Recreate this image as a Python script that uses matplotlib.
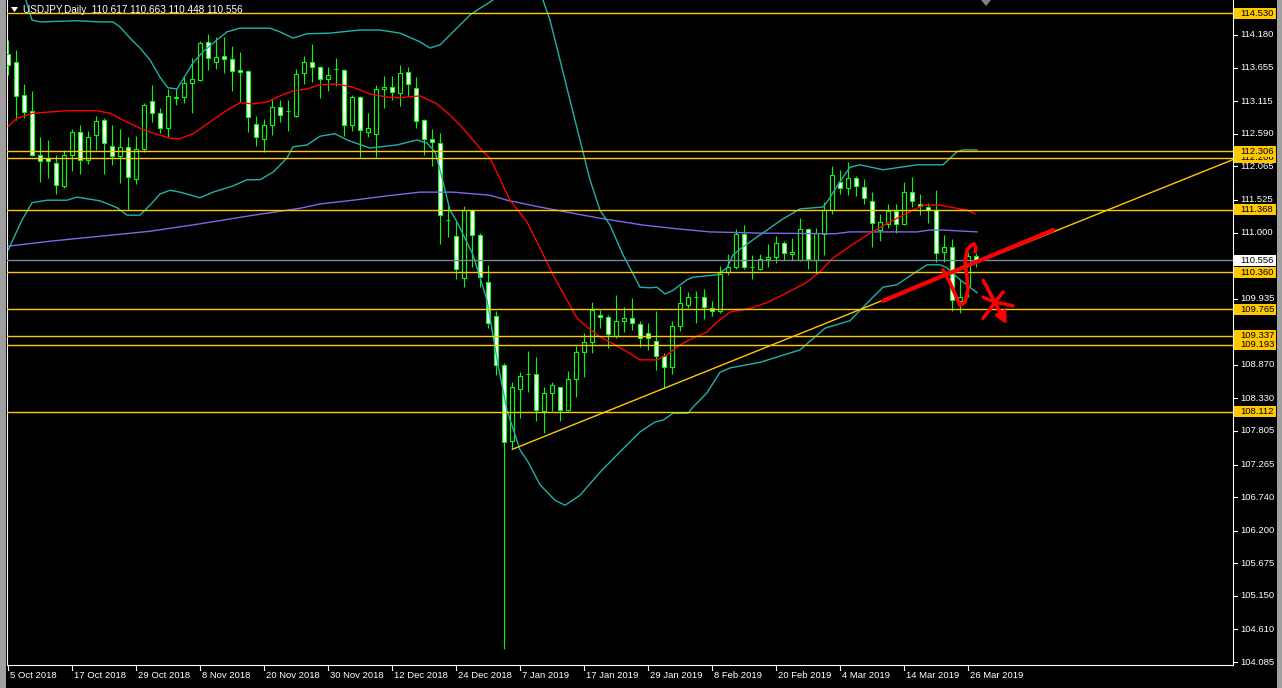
import matplotlib
matplotlib.use("Agg")
import matplotlib.pyplot as plt
from matplotlib.patches import Rectangle, Polygon

plt.rcParams['font.family'] = ['Liberation Sans', 'DejaVu Sans']

# ---- data (bar index, price) ----
opens = [113.87, 113.75, 113.21, 112.95, 112.24, 112.20, 112.12, 111.75, 112.24, 112.62,
         112.17, 112.57, 112.81, 112.40, 112.23, 112.38, 111.86, 112.34, 113.11, 112.92,
         112.68, 113.16, 113.18, 113.40, 113.46, 114.06, 113.75, 113.84, 113.79, 113.61,
         113.60, 112.74, 112.50, 112.73, 113.02, 112.95, 112.88, 113.56, 113.75, 113.66,
         113.47, 113.63, 113.62, 112.73, 113.18, 112.62, 112.58, 113.31, 113.34, 113.24,
         113.58, 113.32, 112.81, 112.50, 112.44, 111.20, 110.94, 110.26, 111.36, 110.96,
         110.20, 109.66, 108.87, 107.65, 108.48, 108.72, 108.72, 108.13, 108.41, 108.51,
         108.15, 108.64, 109.08, 109.24, 109.68, 109.64, 109.34, 109.58, 109.62, 109.52,
         109.38, 109.26, 109.02, 108.83, 109.50, 109.84, 109.96, 109.96, 109.79, 109.74,
         110.37, 110.45, 110.98, 110.44, 110.42, 110.58, 110.60, 110.83, 110.65, 110.56,
         111.05, 110.56, 110.98, 111.36, 111.82, 111.71, 111.87, 111.74, 111.51, 111.04,
         111.14, 111.34, 111.14, 111.65, 111.46, 111.41, 111.37, 110.68, 110.77, 109.90,
         110.13, 110.617]
highs = [114.10, 113.94, 113.39, 113.28, 112.53, 112.49, 112.24, 112.33, 112.67, 112.73,
         112.63, 112.88, 112.85, 112.73, 112.67, 112.54, 112.55, 113.09, 113.38, 113.00,
         113.31, 113.32, 113.51, 113.81, 114.08, 114.20, 114.14, 114.14, 114.00, 113.90,
         113.62, 112.88, 112.83, 113.15, 113.13, 113.14, 113.64, 113.84, 114.03, 113.68,
         113.67, 113.81, 113.64, 113.22, 113.20, 112.92, 113.38, 113.52, 113.52, 113.70,
         113.66, 113.51, 112.82, 112.66, 112.60, 111.46, 111.17, 111.42, 111.38, 111.00,
         110.48, 109.73, 108.90, 108.60, 108.75, 109.09, 108.99, 108.52, 108.59, 108.52,
         108.77, 109.18, 109.39, 109.88, 109.76, 109.68, 109.99, 109.80, 109.94, 109.58,
         109.54, 109.74, 109.06, 109.58, 110.14, 110.04, 110.06, 110.09, 109.90, 110.46,
         110.65, 111.05, 111.12, 110.64, 110.65, 110.82, 110.94, 110.87, 110.91, 111.23,
         111.07, 111.07, 111.49, 112.07, 112.01, 112.14, 111.91, 111.86, 111.65, 111.30,
         111.46, 111.46, 111.82, 111.89, 111.62, 111.48, 111.68, 110.96, 110.89, 110.24,
         110.69, 110.663]
lows = [113.54, 112.81, 112.85, 112.23, 111.82, 111.87, 111.62, 111.72, 111.99, 111.94,
        112.11, 112.33, 111.95, 112.08, 111.80, 111.36, 111.78, 112.30, 112.78, 112.60,
        112.54, 113.05, 113.09, 112.93, 113.44, 113.62, 113.63, 113.56, 113.28, 113.10,
        112.62, 112.39, 112.30, 112.57, 112.78, 112.64, 112.86, 113.39, 113.43, 113.17,
        113.28, 113.36, 112.55, 112.64, 112.22, 112.54, 112.22, 113.00, 113.13, 113.03,
        113.20, 112.68, 112.25, 112.07, 110.81, 110.92, 110.25, 110.13, 110.45, 110.13,
        109.46, 108.70, 104.29, 107.51, 108.01, 108.44, 107.97, 107.77, 108.13, 107.97,
        108.12, 108.36, 108.68, 109.06, 109.47, 109.14, 109.31, 109.40, 109.43, 109.15,
        109.11, 108.79, 108.50, 108.72, 109.42, 109.78, 109.55, 109.60, 109.66, 109.71,
        110.32, 110.41, 110.42, 110.25, 110.40, 110.44, 110.51, 110.55, 110.56, 110.54,
        110.41, 110.33, 110.64, 111.30, 111.62, 111.60, 111.59, 111.46, 110.77, 110.87,
        111.08, 111.00, 111.12, 111.41, 111.29, 111.15, 110.53, 110.53, 109.73, 109.70,
        109.97, 110.448]
closes = [113.70, 113.20, 112.94, 112.25, 112.15, 112.15, 111.77, 112.24, 112.62, 112.17,
          112.53, 112.80, 112.44, 112.23, 112.38, 111.89, 112.34, 113.06, 112.92, 112.68,
          113.19, 113.18, 113.40, 113.47, 114.05, 113.81, 113.82, 113.79, 113.60, 113.58,
          112.86, 112.53, 112.73, 113.02, 112.89, 112.95, 113.55, 113.75, 113.66, 113.47,
          113.53, 113.63, 112.73, 113.18, 112.65, 112.68, 113.31, 113.34, 113.27, 113.56,
          113.39, 112.80, 112.50, 112.45, 111.28, 111.20, 110.42, 111.36, 110.96, 110.29,
          109.54, 108.87, 107.63, 108.51, 108.69, 108.72, 108.15, 108.41, 108.55, 108.15,
          108.64, 109.07, 109.23, 109.75, 109.64, 109.36, 109.58, 109.62, 109.55, 109.31,
          109.31, 109.02, 108.84, 109.50, 109.86, 109.96, 109.96, 109.80, 109.74, 110.34,
          110.45, 110.98, 110.44, 110.44, 110.57, 110.60, 110.83, 110.67, 110.68, 111.05,
          110.57, 110.99, 111.36, 111.93, 111.71, 111.87, 111.75, 111.55, 111.16, 111.17,
          111.34, 111.14, 111.66, 111.50, 111.43, 111.36, 110.67, 110.77, 109.92, 109.97,
          110.62, 110.556]

# Bollinger upper band (bar position, price)
ub_x = [0, 2.09, 2.96, 3.96, 8.59, 11.46, 13.09, 13.96, 15.21, 16.46, 17.71, 18.96, 19.96,
        21.09, 23.09, 24.34, 26.09, 27.34, 28.96, 32.71, 33.96, 35.59, 37.34, 40.21, 43.96,
        46.46, 48.96, 51.46, 52.71, 53.96, 55.21, 56.46, 57.71, 58.96, 60.21, 61.46, 63.96,
        65.84, 66.84, 67.71, 68.96, 70.21, 71.46, 72.71, 73.96, 75.21, 76.84, 77.71, 78.96,
        80.21, 81.09, 82.09, 83.09, 84.84, 85.59, 88.59, 89.84, 90.59, 91.84, 94.84, 96.84,
        98.96, 101.84, 102.34, 103.09, 104.34, 105.21, 106.46, 109.34, 113.59, 116.84,
        118.59, 119.34, 121.09]
ub_y = [114.98, 114.79, 114.42, 114.39, 114.41, 114.39, 114.39, 114.31, 114.13, 113.97,
        113.78, 113.50, 113.33, 113.31, 113.73, 113.91, 114.10, 114.23, 114.29, 114.29,
        114.23, 114.13, 114.20, 114.21, 114.26, 114.26, 114.21, 114.07, 113.97, 114.02,
        114.18, 114.34, 114.50, 114.61, 114.71, 114.82, 114.98, 114.90, 114.74, 114.42,
        113.78, 113.13, 112.49, 111.85, 111.36, 111.12, 110.64, 110.43, 110.12, 110.11,
        110.12, 110.01, 110.07, 110.24, 110.28, 110.32, 110.43, 110.64, 110.77, 111.04,
        111.22, 111.38, 111.41, 111.49, 111.64, 111.89, 112.05, 112.09, 112.01, 112.09,
        112.09, 112.30, 112.33, 112.33]
# Bollinger lower band
lb_x = [0, 0.84, 1.71, 2.96, 4.84, 7.34, 8.59, 11.46, 13.59, 14.84, 16.46, 17.71, 18.96,
        20.21, 21.46, 23.96, 25.59, 28.09, 29.84, 31.46, 33.09, 34.84, 35.59, 37.34, 38.96,
        40.84, 42.34, 45.21, 48.59, 51.09, 52.34, 53.34, 53.96, 55.21, 56.09, 58.09, 59.84,
        61.21, 62.34, 63.96, 64.96, 66.46, 68.34, 69.59, 71.46, 73.96, 76.46, 78.96, 80.84,
        81.84, 83.09, 84.96, 85.59, 87.34, 88.96, 90.21, 93.96, 98.96, 102.09, 105.21,
        108.09, 109.34, 111.09, 112.34, 114.84, 116.46, 117.34, 118.96, 121.09]
lb_y = [110.72, 110.96, 111.20, 111.48, 111.52, 111.52, 111.57, 111.51, 111.40, 111.28,
        111.28, 111.44, 111.62, 111.68, 111.65, 111.56, 111.65, 111.75, 111.85, 111.85,
        111.97, 112.20, 112.38, 112.41, 112.55, 112.59, 112.49, 112.36, 112.41, 112.49,
        112.44, 112.30, 112.01, 111.36, 111.17, 110.64, 109.91, 108.87, 108.14, 107.50,
        107.31, 106.94, 106.69, 106.61, 106.77, 107.14, 107.47, 107.79, 107.95, 107.98,
        108.09, 108.09, 108.19, 108.42, 108.75, 108.82, 108.91, 109.11, 109.46, 109.58,
        109.96, 110.12, 110.16, 110.27, 110.48, 110.48, 110.43, 110.24, 110.03]
# red moving average
ma_x = [0, 1.09, 3.09, 7.34, 11.09, 12.71, 14.34, 16.46, 18.09, 20.21, 21.46, 23.09, 25.21,
        27.34, 28.96, 30.59, 32.34, 33.96, 35.59, 37.34, 38.96, 41.09, 43.09, 45.21, 47.34,
        48.96, 51.46, 53.59, 55.21, 56.46, 58.09, 59.34, 60.21, 62.71, 64.84, 66.46, 68.09,
        69.84, 71.09, 72.34, 73.96, 75.59, 77.34, 78.96, 81.09, 82.34, 83.96, 85.59, 87.34,
        88.59, 90.21, 92.71, 94.84, 97.34, 99.84, 101.46, 103.09, 105.21, 107.71, 110.21,
        112.34, 114.34, 116.46, 117.71, 119.84, 120.84]
ma_y = [112.71, 112.84, 112.92, 112.96, 112.96, 112.92, 112.81, 112.68, 112.60, 112.52,
        112.51, 112.59, 112.78, 112.97, 113.09, 113.07, 113.10, 113.20, 113.28, 113.31,
        113.38, 113.39, 113.34, 113.23, 113.18, 113.17, 113.20, 113.07, 112.89, 112.73,
        112.49, 112.30, 112.20, 111.52, 111.17, 110.75, 110.32, 109.91, 109.62, 109.48,
        109.32, 109.21, 109.08, 108.95, 108.95, 109.03, 109.19, 109.30, 109.40, 109.56,
        109.72, 109.78, 109.87, 110.03, 110.20, 110.37, 110.59, 110.78, 110.99, 111.17,
        111.31, 111.44, 111.44, 111.41, 111.36, 111.30]
# slow moving average (blue)
sma_x = [0, 5.21, 11.46, 17.71, 23.96, 30.21, 36.46, 38.96, 43.09, 47.34, 51.46, 55.59,
         60.21, 62.34, 66.46, 70.59, 73.96, 79.34, 83.59, 87.71, 93.96, 103.34, 105.21,
         113.59, 115.21, 116.84, 121.09]
sma_y = [110.78, 110.86, 110.94, 111.02, 111.14, 111.27, 111.39, 111.46, 111.52, 111.59,
         111.65, 111.65, 111.60, 111.52, 111.41, 111.31, 111.23, 111.12, 111.06, 111.01,
         110.99, 110.98, 111.01, 111.01, 111.04, 111.04, 111.01]

levels = [108.112, 109.193, 109.337, 109.765, 110.360, 111.368, 112.206, 112.306, 114.530]
bid = 110.556
trend_x = [63, 148.96]
trend_y = [107.51, 111.96]

price_ticks = [114.180, 113.655, 113.115, 112.590, 112.065, 111.525, 111.000,
               109.935, 108.870, 108.330, 107.805, 107.265, 106.740, 106.200,
               105.675, 105.150, 104.610, 104.085]
date_bars = list(range(0, 121, 8))
date_labels = ['5 Oct 2018', '17 Oct 2018', '29 Oct 2018', '8 Nov 2018', '20 Nov 2018',
               '30 Nov 2018', '12 Dec 2018', '24 Dec 2018', '7 Jan 2019', '17 Jan 2019',
               '29 Jan 2019', '8 Feb 2019', '20 Feb 2019', '4 Mar 2019', '14 Mar 2019',
               '26 Mar 2019']

# hand-drawn red marks
pen_line_x = [109.34, 130.59]
pen_line_y = [109.90, 111.04]
pen_v_x = [116.84, 117.71, 118.96, 119.59, 119.96, 119.84, 119.59, 119.84, 120.21, 120.71, 120.96, 120.84]
pen_v_y = [110.40, 110.19, 109.83, 109.88, 110.08, 110.28, 110.51, 110.72, 110.77, 110.82, 110.75, 110.69]
pen_arrow_x = [121.71, 124.96]
pen_arrow_y = [110.27, 109.48]
pen_cross_x = [121.84, 124.34]
pen_cross_y = [109.62, 110.04]
pen_wave_x = [121.84, 122.71, 123.59, 124.59, 125.59]
pen_wave_y = [109.96, 109.91, 109.87, 109.85, 109.82]

# ---- figure ----
W, H = 1282, 688
fig = plt.figure(figsize=(W / 100, H / 100), dpi=100, facecolor='black')
ax = fig.add_axes([7 / W, (H - 665) / H, (1233 - 7) / W, 665 / H])
ax.set_facecolor('black')
ax.set_xlim(-0.1625, 153.09)
ax.set_ylim(104.038, 114.743)
ax.set_xticks([])
ax.set_yticks([])
for s in ['left', 'right', 'bottom']:
    ax.spines[s].set_color('white')
    ax.spines[s].set_linewidth(0.8)
ax.spines['top'].set_visible(False)

GREEN = '#00FF00'
GOLD = '#FFC800'
n = len(opens)
xs = list(range(n))
ax.vlines(xs, lows, highs, color=GREEN, lw=0.8, zorder=2)
for i in xs:
    o, c = opens[i], closes[i]
    fc = 'white' if c < o else 'black'
    ax.add_patch(Rectangle((i - 0.25, min(o, c)), 0.5, abs(c - o), facecolor=fc,
                           edgecolor=GREEN, lw=0.8, zorder=3))

ax.plot(sma_x, sma_y, color='#7B68EE', lw=1, zorder=4)
ax.plot(ma_x, ma_y, color='#FF0000', lw=1, zorder=4)
ax.plot(ub_x, ub_y, color='#20B2AA', lw=1, zorder=4)
ax.plot(lb_x, lb_y, color='#20B2AA', lw=1, zorder=4)

ax.axhline(bid, color='#778899', lw=1, zorder=5)
for lv in levels:
    ax.axhline(lv, color=GOLD, lw=1, zorder=5)

slope = (trend_y[1] - trend_y[0]) / (trend_x[1] - trend_x[0])
x_end = ax.get_xlim()[1]
ax.plot([trend_x[0], x_end], [trend_y[0], trend_y[0] + slope * (x_end - trend_x[0])],
        color=GOLD, lw=1, zorder=5)

# red pen annotations
RED = '#FF0000'
ax.plot(pen_line_x, pen_line_y, color=RED, lw=3.0, solid_capstyle='round', zorder=6)
ax.plot(pen_v_x, pen_v_y, color=RED, lw=2.6, solid_joinstyle='round',
        solid_capstyle='round', zorder=6)
ax.annotate('', xy=(pen_arrow_x[1], pen_arrow_y[1]), xytext=(pen_arrow_x[0], pen_arrow_y[0]),
            arrowprops=dict(arrowstyle='-|>', color=RED, lw=2.6, mutation_scale=16), zorder=6)
ax.plot(pen_cross_x, pen_cross_y, color=RED, lw=2.6, solid_capstyle='round', zorder=6)
ax.plot(pen_wave_x, pen_wave_y, color=RED, lw=2.4, solid_capstyle='round', zorder=6)

# ---- right price scale ----
ytr = ax.get_yaxis_transform()
FS = 6.8
px = 1 / 1226  # one pixel in axes-x fraction
for p in price_ticks:
    ax.plot([1, 1 + 4 * px], [p, p], color='white', lw=0.8, transform=ytr, clip_on=False)
    ax.text(1 + 7 * px, p, f'{p:.3f}', color='white', fontsize=FS, va='center', ha='left',
            transform=ytr, clip_on=False)
box_h = 11 / 62.115
ax.add_patch(Rectangle((1 + 1 * px, bid - box_h / 2), 42 * px, box_h, facecolor='white',
                       edgecolor='none', transform=ytr, clip_on=False, zorder=7))
ax.text(1 + 7 * px, bid, f'{bid:.3f}', color='black', fontsize=FS, va='center', ha='left',
        transform=ytr, clip_on=False, zorder=8)
for k, lv in enumerate(levels):
    ax.add_patch(Rectangle((1 + 1 * px, lv - box_h / 2), 42 * px, box_h, facecolor=GOLD,
                           edgecolor='none', transform=ytr, clip_on=False, zorder=7 + 2 * k))
    ax.text(1 + 7 * px, lv, f'{lv:.3f}', color='black', fontsize=FS, va='center', ha='left',
            transform=ytr, clip_on=False, zorder=8 + 2 * k)

# ---- bottom time scale ----
xtr = ax.get_xaxis_transform()
for b, lab in zip(date_bars, date_labels):
    ax.plot([b, b], [0, -5 / 665], color='white', lw=0.8, transform=xtr, clip_on=False)
    ax.text(b + 0.2, -11 / 665, lab, color='white', fontsize=FS, va='center', ha='left',
            transform=xtr, clip_on=False)

# ---- header and window chrome ----
fig.text(23 / W, 1 - 10 / H, 'USDJPY,Daily  110.617 110.663 110.448 110.556', color='white',
         fontsize=FS + 0.4, va='center', ha='left')
fig.patches.append(Polygon([[11 / W, 1 - 7 / H], [18 / W, 1 - 7 / H], [14.5 / W, 1 - 12 / H]],
                           closed=True, facecolor='white', edgecolor='none',
                           transform=fig.transFigure))
fig.patches.append(Polygon([[981 / W, 1.0], [991 / W, 1.0], [986 / W, 1 - 6 / H]],
                           closed=True, facecolor='#808080', edgecolor='none',
                           transform=fig.transFigure))
fig.patches.append(Rectangle((0, 0), 6 / W, 1, facecolor='#A0A0A0', edgecolor='none',
                             transform=fig.transFigure))
fig.patches.append(Rectangle((1277 / W, 0), 5 / W, 1, facecolor='#A0A0A0', edgecolor='none',
                             transform=fig.transFigure))

fig.savefig('out.png', dpi=100, facecolor='black')
